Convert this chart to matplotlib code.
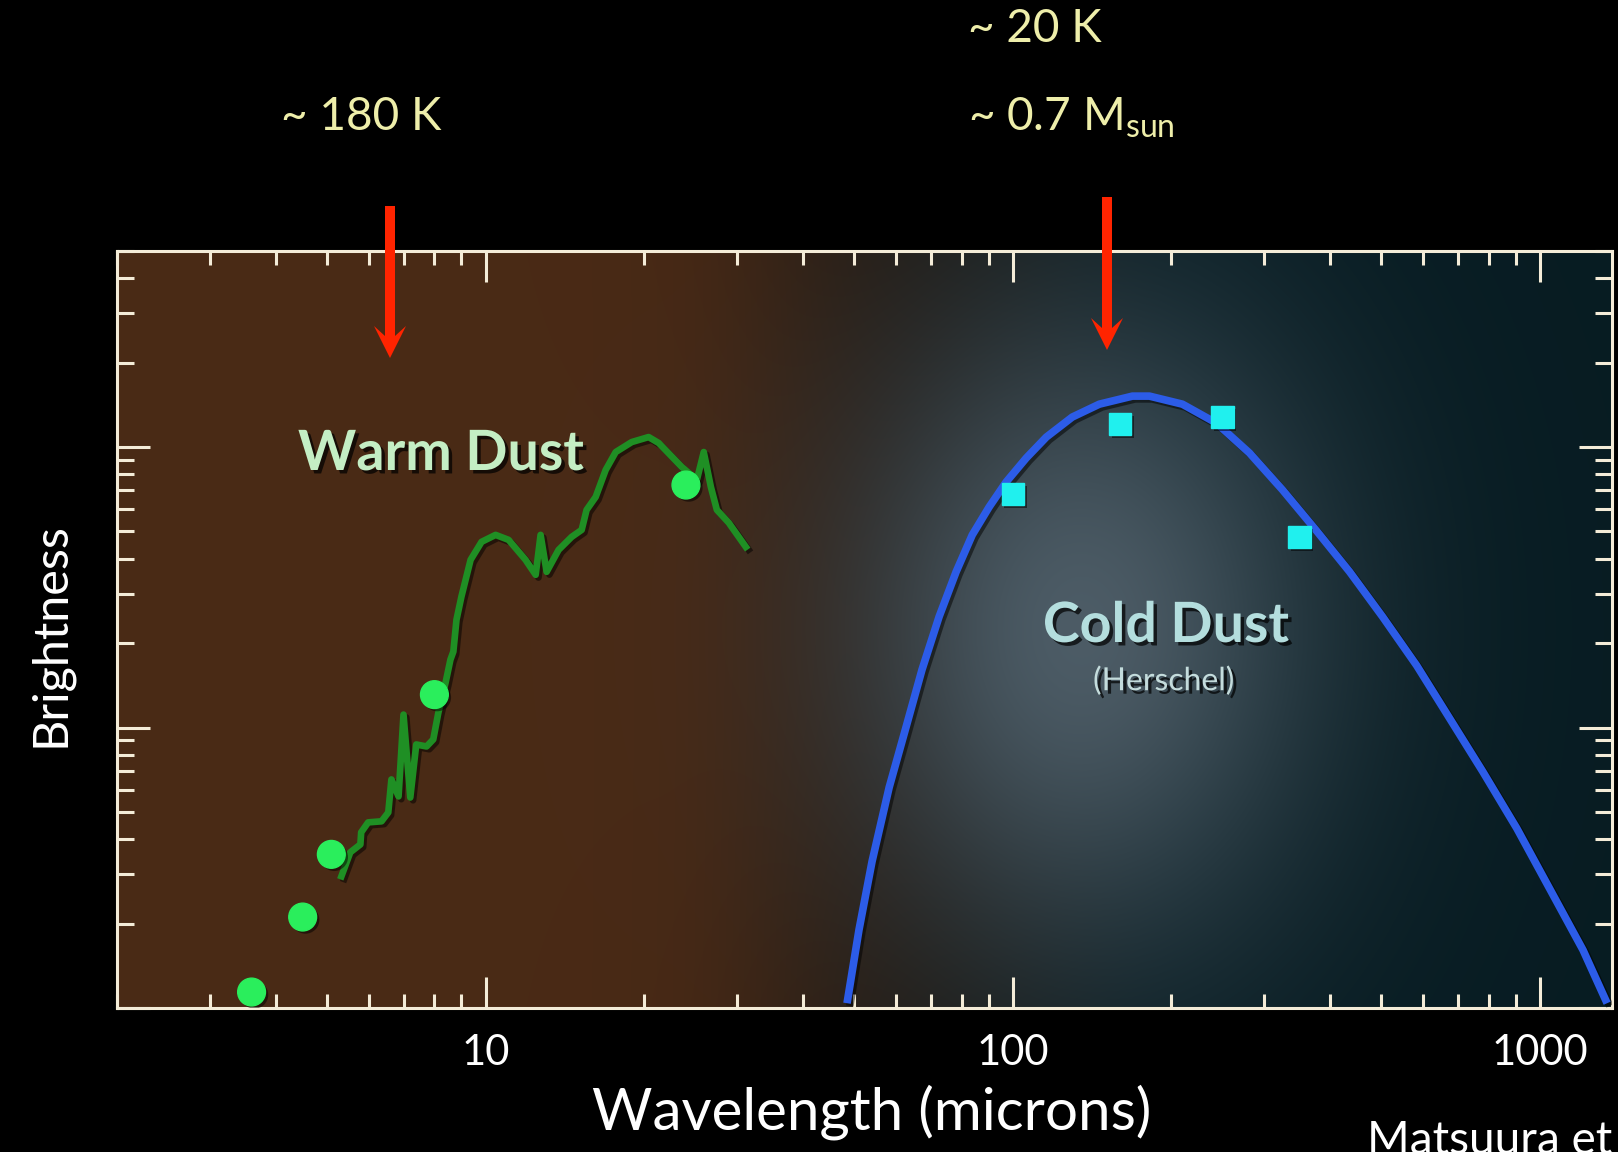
import numpy as np
import matplotlib
matplotlib.use("Agg")
import matplotlib.pyplot as plt
import matplotlib.patheffects as pe
from matplotlib.patches import Polygon
from matplotlib.transforms import IdentityTransform
from matplotlib.ticker import LogLocator, NullFormatter

plt.rcParams['font.family'] = ['Lato', 'DejaVu Sans']

# Spitzer IRS spectrum of the warm dust (wavelength in microns, relative brightness)
warm_wave = [5.33, 5.54, 5.79, 5.81, 5.99, 6.35, 6.54, 6.63, 6.84, 6.99,
             7.20, 7.39, 7.73, 7.96, 8.14, 8.40, 8.58, 8.69, 8.81, 9.00,
             9.37, 9.83, 10.45, 11.06, 11.91, 12.45, 12.72, 13.06, 13.76, 14.57,
             15.22, 15.55, 16.18, 16.90, 17.66, 18.94, 20.39, 21.31, 23.57, 25.17,
             25.94, 26.76, 27.47, 28.94, 31.17]
warm_flux = [0.0295, 0.0359, 0.0383, 0.0423, 0.0459, 0.0463, 0.0498, 0.0653, 0.0568, 0.1112,
             0.0563, 0.0870, 0.0856, 0.0907, 0.1131, 0.1446, 0.1746, 0.1865, 0.2423, 0.2925,
             0.3962, 0.4592, 0.4862, 0.4667, 0.3962, 0.3503, 0.4862, 0.3590, 0.4299, 0.4783,
             0.5066, 0.5969, 0.6638, 0.8282, 0.9598, 1.0418, 1.0855, 1.0333, 0.8489, 0.7631,
             0.9598, 0.7205, 0.5969, 0.5366, 0.4406]

# Spitzer photometry
phot_wave = [3.6, 4.5, 5.1, 8.0, 24.0]
phot_flux = [0.0114, 0.0211, 0.0353, 0.131, 0.732]

# Herschel photometry
herschel_wave = [100, 160, 250, 350]
herschel_flux = [0.681, 1.207, 1.279, 0.478]

# cold dust fit
model_wave = [48.5, 51.1, 54.1, 58.3, 62.8, 67.3, 72.5, 78.1, 83.8, 90.2,
              97.2, 106.1, 115.8, 129.7, 146.0, 168.7, 181.7, 209.8, 243.5, 281.3,
              325.0, 377.0, 435.6, 503.0, 584.0, 674.6, 779.0, 904.0, 1045.0, 1207.0,
              1341.0]
model_flux = [0.0104, 0.0190, 0.0333, 0.0612, 0.1008, 0.1609, 0.2483, 0.359, 0.486, 0.611,
              0.751, 0.914, 1.085, 1.279, 1.422, 1.519, 1.519, 1.422, 1.217, 0.952,
              0.703, 0.5025, 0.359, 0.2483, 0.1662, 0.1076, 0.0697, 0.0437, 0.0265, 0.0161,
              0.0104]

xticks = [10, 100, 1000]
xticklabels = ['10', '100', '1000']

W_PX, H_PX = 1618, 1152
TICK = '#f4ecd8'
YELLOW = '#eeeeaa'


def fx(px):
    return px / W_PX


def fy(py):
    return 1 - py / H_PX


fig = plt.figure(figsize=(W_PX / 100, H_PX / 100), dpi=100, facecolor='black')
rect = [fx(117), fy(1008), (1612 - 117) / W_PX, (1008 - 251) / H_PX]

# background: brown on the warm side, dark teal on the cold side, glow behind the cold dust
bg = fig.add_axes(rect, zorder=0)
gx, gy = np.meshgrid(np.linspace(0, 1, 800), np.linspace(0, 1, 400))
brown = np.array([0.29, 0.165, 0.085])
teal = np.array([0.03, 0.11, 0.135])
glow = np.array([0.30, 0.36, 0.40])
t = np.clip((gx - 0.36) / 0.36, 0, 1)
t = t * t * (3 - 2 * t)
base = brown * (1 - t[..., None]) + teal * t[..., None]
base *= (1 - 0.3 * np.exp(-((gx - 0.53) / 0.12) ** 2))[..., None]
g = np.exp(-(((gx - 0.645) / 0.16) ** 2 + ((gy - 0.5) / 0.42) ** 2) ** 1.0)
img = base * (1 - g[..., None]) + glow * g[..., None]
bg.imshow(img, extent=(0, 1, 0, 1), origin='lower', aspect='auto', interpolation='bilinear')
bg.axis('off')

ax = fig.add_axes(rect, zorder=1)
ax.patch.set_alpha(0)
ax.set_xscale('log')
ax.set_yscale('log')

shadow_line = [pe.SimpleLineShadow(offset=(2, -2), shadow_color='black', alpha=0.5), pe.Normal()]
shadow_mark = [pe.SimplePatchShadow(offset=(2, -2), shadow_rgbFace='black', alpha=0.5), pe.Normal()]

ax.plot(warm_wave, warm_flux, color='#1f8f24', lw=4.8, solid_joinstyle='round',
        path_effects=shadow_line, zorder=3)
ax.plot(phot_wave, phot_flux, 'o', ms=20, mfc='#2aee5c', mec='#2aee5c',
        path_effects=shadow_mark, zorder=4)
ax.plot(model_wave, model_flux, color='#2c5ce8', lw=5.5, solid_capstyle='butt',
        solid_joinstyle='round', path_effects=shadow_line, zorder=3)
ax.plot(herschel_wave, herschel_flux, 's', ms=16, mfc='#20f0ee', mec='#20f0ee',
        path_effects=shadow_mark, zorder=4)

ax.set_xlim(2, 1370)
ax.set_ylim(0.01, 5)
ax.set_xticks(xticks, xticklabels)
ax.xaxis.set_minor_locator(LogLocator(base=10, subs=np.arange(2, 10)))
ax.xaxis.set_minor_formatter(NullFormatter())
ax.yaxis.set_major_locator(LogLocator(base=10))
ax.yaxis.set_minor_locator(LogLocator(base=10, subs=np.arange(2, 10)))
ax.yaxis.set_major_formatter(NullFormatter())
ax.yaxis.set_minor_formatter(NullFormatter())

ax.tick_params(axis='x', which='major', direction='in', length=22, width=2.2, color=TICK,
               top=True, labelsize=30, labelcolor='white', pad=19)
ax.tick_params(axis='x', which='minor', direction='in', length=10, width=2.2, color=TICK, top=True)
ax.tick_params(axis='y', which='major', direction='in', length=24, width=2.2, color=TICK, right=True)
ax.tick_params(axis='y', which='minor', direction='in', length=12, width=2.2, color=TICK, right=True)
for s in ax.spines.values():
    s.set_color(TICK)
    s.set_linewidth(2.2)

text_shadow = [pe.withSimplePatchShadow(offset=(2.5, -2.5), shadow_rgbFace='black', alpha=0.7)]
fig.text(fx(441), fy(454), 'Warm Dust', fontsize=40, fontweight='bold', color='#c4eec4',
         ha='center', va='center', path_effects=text_shadow, zorder=5)
fig.text(fx(1166), fy(626), 'Cold Dust', fontsize=40, fontweight='bold', color='#b4dede',
         ha='center', va='center', path_effects=text_shadow, zorder=5)
fig.text(fx(1164), fy(681), '(Herschel)', fontsize=23, color='#c4dcdc',
         ha='center', va='center', path_effects=text_shadow, zorder=5)

fig.text(fx(50), fy(635), 'Brightness', fontsize=35, color='white', rotation=90,
         ha='center', va='center')
fig.text(fx(872), fy(1112), 'Wavelength (microns)', fontsize=42, color='white',
         ha='center', va='center')
fig.text(fx(1367), fy(1120), 'Matsuura et al.', fontsize=33, color='white',
         ha='left', va='top')

# temperature / mass annotations above the plot
fig.text(fx(281), fy(130), '~ 180 K', fontsize=33, color=YELLOW, ha='left', va='baseline')
fig.text(fx(968), fy(42), '~ 20 K', fontsize=33, color=YELLOW, ha='left', va='baseline')
fig.text(fx(968), fy(130), r'~ 0.7 M$_{\mathregular{sun}}$', fontsize=33, color=YELLOW,
         ha='left', va='baseline')


def down_arrow(x, top, tip):
    # arrow drawn in figure pixels, y measured from the top edge
    pts = [(x - 5, top), (x + 5, top), (x + 5, tip - 22), (x + 16, tip - 32),
           (x, tip), (x - 16, tip - 32), (x - 5, tip - 22)]
    pts = [(px, H_PX - py) for px, py in pts]
    fig.add_artist(Polygon(pts, closed=True, facecolor='#ff2400', edgecolor='none',
                           transform=IdentityTransform(), zorder=6))


down_arrow(390, 206, 358)
down_arrow(1107, 197, 350)

fig.savefig('out.png', dpi=100, facecolor='black')
